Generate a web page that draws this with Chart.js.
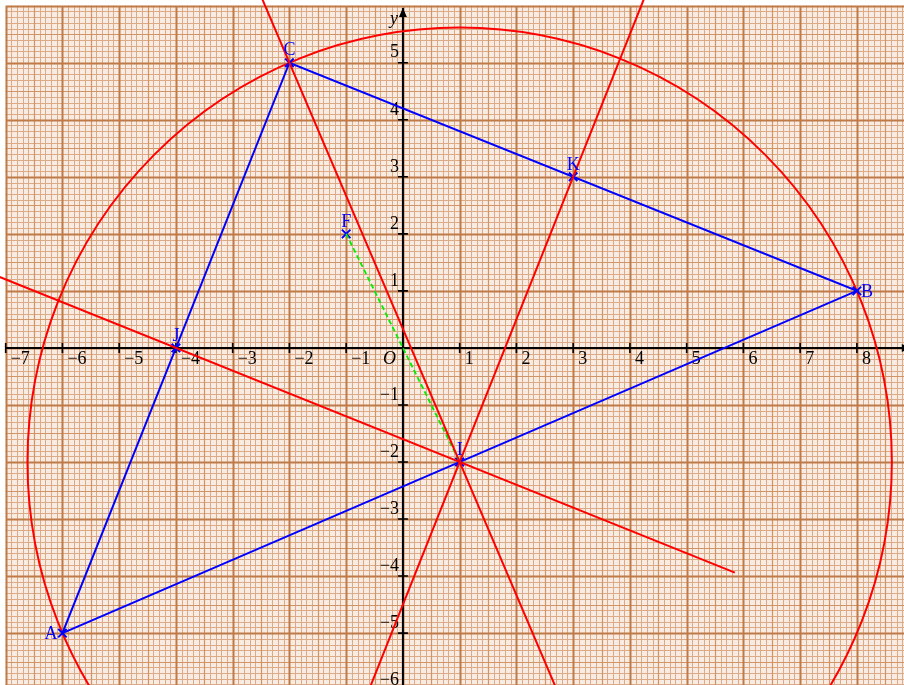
<!DOCTYPE html>
<html>
<head>
<meta charset="utf-8">
<style>
  html, body { margin: 0; padding: 0; background: #ffffff; }
  #wrap { width: 904px; height: 685px; }
</style>
<script src="https://cdn.jsdelivr.net/npm/chart.js@4/dist/chart.umd.min.js"></script>
</head>
<body>
<div id="wrap"><canvas id="c" width="904" height="685"></canvas></div>
<script>
// ---- data ----
const pointNames = ['A', 'B', 'C', 'I', 'J', 'K', 'F'];
const pointX = [-6, 8, -2, 1, -4, 3, -1];
const pointY = [-5, 1, 5, -2, 0, 3, 2];
const pointLabelSide = ['left', 'right', 'above', 'above', 'above', 'above', 'above'];

const triangleX = [-6, -2, 8, -6];
const triangleY = [-5, 5, 1, -5];

const lineCIX = [-2.643, 2.929];
const lineCIY = [6.5, -6.5];
const lineKIX = [4.4, -0.8];
const lineKIY = [6.5, -6.5];
const lineJIX = [-7.5, 5.85];
const lineJIY = [1.4, -3.94];

const dashFIX = [-1, 1];
const dashFIY = [2, -2];

const circleCenterX = [1];
const circleCenterY = [-2];
const circleRadius = [7.6158];

const xTickValues = [-7, -6, -5, -4, -3, -2, -1, 1, 2, 3, 4, 5, 6, 7, 8];
const xTickLabels = ['−7', '−6', '−5', '−4', '−3', '−2', '−1', '1', '2', '3', '4', '5', '6', '7', '8'];
const yTickValues = [-6, -5, -4, -3, -2, -1, 1, 2, 3, 4, 5];
const yTickLabels = ['−6', '−5', '−4', '−3', '−2', '−1', '1', '2', '3', '4', '5'];

function pts(xs, ys) { return xs.map((x, i) => ({ x: x, y: ys[i] })); }

const RED = '#ff0000', BLUE = '#0000ff', GREEN = '#00ee00';
const SERIF = '"Liberation Serif", "DejaVu Serif", serif';

const paperPlugin = {
  id: 'paper',
  beforeDatasetsDraw(chart) {
    const ctx = chart.ctx, xs = chart.scales.x, ys = chart.scales.y;
    const gx0 = -7, gx1 = 9, gy0 = -6, gy1 = 6;
    const px0 = xs.getPixelForValue(gx0), px1 = xs.getPixelForValue(gx1);
    const py0 = ys.getPixelForValue(gy0), py1 = ys.getPixelForValue(gy1);
    ctx.save();
    ctx.fillStyle = '#f8ebe1';
    ctx.fillRect(px0, py1, px1 - px0, py0 - py1);
    const levels = [
      { step: 1, color: '#dcaa86', width: 1 },
      { step: 5, color: '#d09466', width: 1.2 },
      { step: 10, color: '#c07a48', width: 2 }
    ];
    levels.forEach(lv => {
      ctx.strokeStyle = lv.color; ctx.lineWidth = lv.width;
      ctx.beginPath();
      for (let k = gx0 * 10; k <= gx1 * 10; k++) {
        if (lv.step === 1 && k % 5 === 0) continue;
        if (lv.step === 5 && (k % 5 !== 0 || k % 10 === 0)) continue;
        if (lv.step === 10 && k % 10 !== 0) continue;
        const p = Math.round(xs.getPixelForValue(k / 10)) + 0.5;
        ctx.moveTo(p, py1); ctx.lineTo(p, py0);
      }
      for (let k = gy0 * 10; k <= gy1 * 10; k++) {
        if (lv.step === 1 && k % 5 === 0) continue;
        if (lv.step === 5 && (k % 5 !== 0 || k % 10 === 0)) continue;
        if (lv.step === 10 && k % 10 !== 0) continue;
        const p = Math.round(ys.getPixelForValue(k / 10)) + 0.5;
        ctx.moveTo(px0, p); ctx.lineTo(px1, p);
      }
      ctx.stroke();
    });

    // axes
    const ox = xs.getPixelForValue(0), oy = ys.getPixelForValue(0);
    ctx.strokeStyle = '#000'; ctx.lineWidth = 2;
    ctx.beginPath();
    ctx.moveTo(px0, oy); ctx.lineTo(xs.getPixelForValue(8.95), oy);
    ctx.moveTo(ox, py0); ctx.lineTo(ox, ys.getPixelForValue(5.96));
    ctx.stroke();
    // arrowheads
    ctx.fillStyle = '#000';
    const ty = ys.getPixelForValue(5.96);
    ctx.beginPath(); ctx.moveTo(ox, ty); ctx.lineTo(ox - 4, ty + 9); ctx.lineTo(ox + 4, ty + 9); ctx.closePath(); ctx.fill();
    const tx = xs.getPixelForValue(8.95);
    ctx.beginPath(); ctx.moveTo(tx, oy); ctx.lineTo(tx - 9, oy - 4); ctx.lineTo(tx - 9, oy + 4); ctx.closePath(); ctx.fill();
    // ticks
    ctx.lineWidth = 1.6;
    ctx.beginPath();
    xTickValues.forEach(v => { const p = xs.getPixelForValue(v); ctx.moveTo(p, oy - 5); ctx.lineTo(p, oy + 5); });
    yTickValues.forEach(v => { const p = ys.getPixelForValue(v); ctx.moveTo(ox - 5, p); ctx.lineTo(ox + 5, p); });
    ctx.stroke();
    // tick labels
    ctx.font = '18px ' + SERIF;
    ctx.fillStyle = '#000';
    ctx.textAlign = 'left'; ctx.textBaseline = 'top';
    xTickValues.forEach((v, i) => { ctx.fillText(xTickLabels[i], xs.getPixelForValue(v) + 5, oy + 2); });
    ctx.textAlign = 'right'; ctx.textBaseline = 'bottom';
    yTickValues.forEach((v, i) => { ctx.fillText(yTickLabels[i], ox - 4, ys.getPixelForValue(v) - 1); });
    ctx.font = 'italic 18px ' + SERIF;
    ctx.textAlign = 'left'; ctx.textBaseline = 'top';
    ctx.fillText('O', ox - 20, oy + 2);
    ctx.textAlign = 'right'; ctx.textBaseline = 'middle';
    ctx.fillText('y', ox - 5, ys.getPixelForValue(5.77));
    ctx.textAlign = 'left';
    ctx.fillText('x', xs.getPixelForValue(8.85), oy + 4);

    // circle
    ctx.strokeStyle = RED; ctx.lineWidth = 2;
    circleCenterX.forEach((cx, i) => {
      const pcx = xs.getPixelForValue(cx), pcy = ys.getPixelForValue(circleCenterY[i]);
      const rx = Math.abs(xs.getPixelForValue(cx + circleRadius[i]) - pcx);
      const ry = Math.abs(ys.getPixelForValue(circleCenterY[i] + circleRadius[i]) - pcy);
      ctx.beginPath(); ctx.ellipse(pcx, pcy, rx, ry, 0, 0, Math.PI * 2); ctx.stroke();
    });
    ctx.restore();
  },
  afterDatasetsDraw(chart) {
    const ctx = chart.ctx, xs = chart.scales.x, ys = chart.scales.y;
    ctx.save();
    ctx.font = '18px ' + SERIF;
    ctx.fillStyle = BLUE;
    pointNames.forEach((n, i) => {
      const px = xs.getPixelForValue(pointX[i]), py = ys.getPixelForValue(pointY[i]);
      const side = pointLabelSide[i];
      if (side === 'left') { ctx.textAlign = 'right'; ctx.textBaseline = 'middle'; ctx.fillText(n, px - 5, py + 1); }
      else if (side === 'right') { ctx.textAlign = 'left'; ctx.textBaseline = 'middle'; ctx.fillText(n, px + 4, py + 1); }
      else { ctx.textAlign = 'center'; ctx.textBaseline = 'bottom'; ctx.fillText(n, px, py - 3); }
    });
    ctx.restore();
  }
};

const lineDs = (data, color, extra) => Object.assign({
  data: data, showLine: true, borderColor: color, borderWidth: 2,
  pointRadius: 0, pointHoverRadius: 0, fill: false, tension: 0
}, extra || {});

new Chart(document.getElementById('c'), {
  type: 'scatter',
  data: {
    datasets: [
      lineDs(pts(lineCIX, lineCIY), RED),
      lineDs(pts(lineKIX, lineKIY), RED),
      lineDs(pts(lineJIX, lineJIY), RED),
      lineDs(pts(triangleX, triangleY), BLUE),
      lineDs(pts(dashFIX, dashFIY), GREEN, { borderDash: [5, 3], borderWidth: 1.8 }),
      {
        data: pts(pointX, pointY), showLine: false, pointStyle: 'crossRot',
        pointRadius: 6, borderColor: BLUE, borderWidth: 2, backgroundColor: BLUE
      }
    ]
  },
  options: {
    responsive: false, animation: false, maintainAspectRatio: false,
    layout: { padding: 0, autoPadding: false },
    plugins: { legend: { display: false }, tooltip: { enabled: false } },
    scales: {
      x: { type: 'linear', display: false, min: -7.1, max: 8.83 },
      y: { type: 'linear', display: false, min: -5.91, max: 6.1 }
    }
  },
  plugins: [paperPlugin]
});
</script>
</body>
</html>
